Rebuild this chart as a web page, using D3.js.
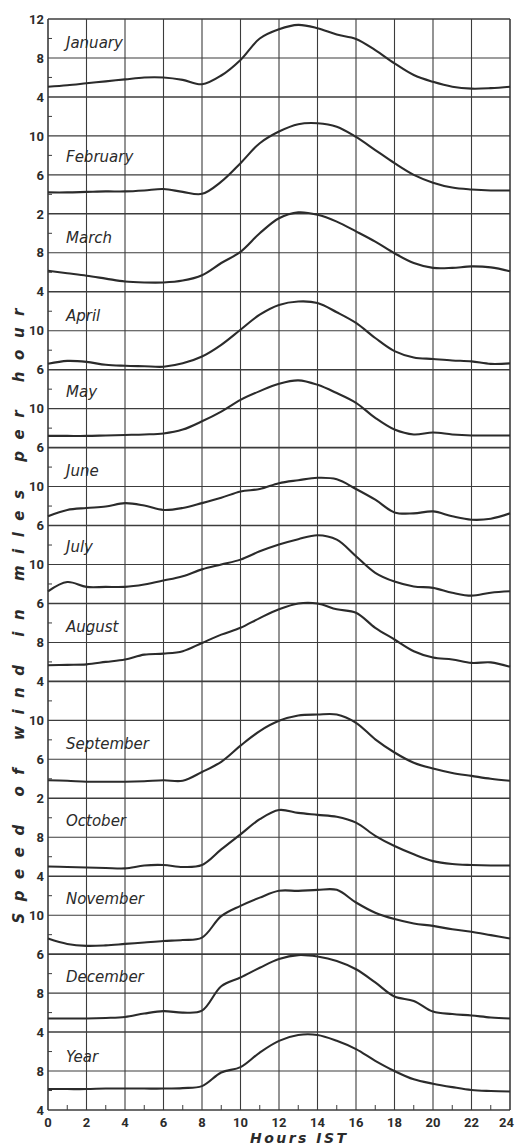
<!DOCTYPE html>
<html>
<head>
<meta charset="utf-8">
<script src="https://cdn.jsdelivr.net/npm/d3@7"></script>
<style>
  body { margin: 0; background: #fff; }
  svg { display: block; }
</style>
</head>
<body>
<div id="chart"></div>
<script>
const width = 515;
const height = 1146;
const margin = { top: 19, right: 5, bottom: 36, left: 48 };

// hours of the day (x axis) and the hour ticks
const hours = [0, 1, 2, 3, 4, 5, 6, 7, 8, 9, 10, 11, 12, 13, 14, 15, 16, 17, 18, 19, 20, 21, 22, 23, 24];
const hourTicks = [0, 2, 4, 6, 8, 10, 12, 14, 16, 18, 20, 22, 24];

// labels written against every horizontal grid line, top to bottom
const yTickLabels = [12, 8, 4, 10, 6, 2, 8, 4, 10, 6, 10, 6, 10, 6, 10, 6, 8, 4, 10, 6, 2, 8, 4, 10, 6, 8, 4, 8, 4];

const months = ["January", "February", "March", "April", "May", "June", "July",
  "August", "September", "October", "November", "December", "Year"];

// index in yTickLabels of the first label that belongs to each panel
const panelTick = [0, 3, 6, 8, 10, 12, 14, 16, 18, 21, 23, 25, 27];

// mean wind speed (mph) for every hour 0..24
const january = [5.05, 5.2, 5.4, 5.6, 5.8, 6.0, 6.0, 5.75, 5.3, 6.2, 7.8, 10.0, 10.95, 11.4, 11.05, 10.4, 9.95, 8.8, 7.45, 6.25, 5.55, 5.05, 4.85, 4.9, 5.05];
const february = [4.2, 4.2, 4.25, 4.3, 4.3, 4.4, 4.55, 4.25, 4.05, 5.3, 7.2, 9.25, 10.45, 11.2, 11.3, 10.95, 9.9, 8.55, 7.2, 6.0, 5.2, 4.7, 4.5, 4.4, 4.4];
const march = [6.15, 5.9, 5.65, 5.35, 5.05, 4.95, 4.95, 5.15, 5.7, 6.95, 8.1, 10.0, 11.55, 12.15, 11.9, 11.2, 10.2, 9.15, 7.95, 6.95, 6.45, 6.45, 6.6, 6.5, 6.1];
const april = [6.6, 6.9, 6.8, 6.5, 6.4, 6.35, 6.3, 6.65, 7.35, 8.55, 10.1, 11.65, 12.65, 13.0, 12.85, 11.9, 10.8, 9.25, 7.9, 7.25, 7.1, 6.95, 6.85, 6.6, 6.65];
const may = [7.2, 7.2, 7.2, 7.25, 7.3, 7.35, 7.45, 7.85, 8.7, 9.7, 10.9, 11.8, 12.55, 12.9, 12.45, 11.6, 10.6, 9.05, 7.85, 7.35, 7.55, 7.35, 7.25, 7.25, 7.25];
const june = [6.95, 7.6, 7.8, 7.95, 8.3, 8.05, 7.6, 7.8, 8.3, 8.85, 9.5, 9.75, 10.35, 10.65, 10.9, 10.75, 9.75, 8.65, 7.35, 7.25, 7.45, 6.95, 6.6, 6.7, 7.25];
const july = [7.25, 8.2, 7.7, 7.7, 7.7, 7.95, 8.35, 8.8, 9.5, 10.0, 10.5, 11.35, 12.05, 12.6, 13.0, 12.55, 10.85, 9.15, 8.25, 7.75, 7.6, 7.1, 6.8, 7.1, 7.25];
const august = [5.65, 5.7, 5.75, 6.0, 6.25, 6.75, 6.85, 7.1, 7.95, 8.8, 9.5, 10.5, 11.4, 12.0, 12.0, 11.4, 11.05, 9.5, 8.3, 7.1, 6.45, 6.25, 5.9, 5.95, 5.5];
const september = [3.85, 3.8, 3.7, 3.7, 3.7, 3.75, 3.85, 3.8, 4.7, 5.75, 7.4, 8.9, 9.95, 10.5, 10.6, 10.6, 9.75, 8.05, 6.7, 5.65, 5.05, 4.6, 4.3, 4.0, 3.8];
const october = [5.0, 4.95, 4.9, 4.85, 4.8, 5.1, 5.15, 4.95, 5.15, 6.75, 8.3, 9.85, 10.8, 10.5, 10.3, 10.1, 9.5, 8.15, 7.1, 6.25, 5.55, 5.25, 5.15, 5.1, 5.1];
const november = [7.6, 7.05, 6.85, 6.9, 7.05, 7.2, 7.35, 7.45, 7.7, 9.9, 10.95, 11.8, 12.5, 12.5, 12.6, 12.6, 11.3, 10.25, 9.6, 9.15, 8.9, 8.55, 8.3, 7.95, 7.6];
const december = [5.4, 5.4, 5.4, 5.45, 5.55, 5.9, 6.15, 6.0, 6.2, 8.7, 9.6, 10.6, 11.5, 11.9, 11.75, 11.3, 10.45, 9.1, 7.65, 7.2, 6.1, 5.85, 5.7, 5.5, 5.4];
const year = [6.15, 6.15, 6.15, 6.2, 6.2, 6.2, 6.2, 6.25, 6.45, 7.85, 8.4, 9.9, 11.1, 11.7, 11.7, 11.1, 10.25, 9.05, 8.0, 7.15, 6.7, 6.35, 6.05, 5.95, 5.9];

const series = [january, february, march, april, may, june, july, august,
  september, october, november, december, year];

// grid row (in grid-line units) where each month name sits
const labelRow = [0.74, 3.67, 5.74, 7.74, 9.69, 11.74, 13.69, 15.74, 18.74, 20.72, 22.72, 24.72, 26.77];

const ink = "#2b2b2b";
const gridInk = "#3c3c3c";

const svg = d3.select("#chart")
  .append("svg")
  .attr("width", width)
  .attr("height", height)
  .attr("viewBox", `0 0 ${width} ${height}`);

svg.append("rect").attr("width", width).attr("height", height).attr("fill", "#fff");

// scales
const xScale = d3.scaleLinear()
  .domain([0, 24])
  .range([margin.left, width - margin.right]);

const nRows = yTickLabels.length - 1;
const rowScale = d3.scaleLinear()
  .domain([0, nRows])
  .range([margin.top, height - margin.bottom]);

// each panel gets its own speed scale anchored on its labelled grid lines
const panelScale = i => {
  const k = panelTick[i];
  const v = yTickLabels[k];
  return d3.scaleLinear()
    .domain([v, v - 4])
    .range([rowScale(k), rowScale(k + 1)]);
};

const grid = svg.append("g");
const curves = svg.append("g");
const axes = svg.append("g");

// horizontal grid lines (panel boundaries a bit heavier)
const separators = new Set([2, 5, 7, 9, 11, 13, 15, 17, 20, 22, 24, 26]);
grid.selectAll(".hline")
  .data(d3.range(nRows + 1))
  .join("line")
  .attr("x1", xScale(0))
  .attr("x2", xScale(24))
  .attr("y1", d => rowScale(d))
  .attr("y2", d => rowScale(d))
  .attr("stroke", gridInk)
  .attr("stroke-width", d => (separators.has(d) || d === 0 || d === nRows) ? 1.6 : 1.1);

// vertical grid lines
grid.selectAll(".vline")
  .data(hourTicks)
  .join("line")
  .attr("x1", d => xScale(d))
  .attr("x2", d => xScale(d))
  .attr("y1", rowScale(0))
  .attr("y2", rowScale(nRows))
  .attr("stroke", gridInk)
  .attr("stroke-width", d => (d === 0 || d === 24) ? 1.6 : 1.1);

// minor ticks on the left axis (half way between grid lines)
axes.selectAll(".ytick-minor")
  .data(d3.range(nRows))
  .join("line")
  .attr("x1", xScale(0))
  .attr("x2", xScale(0) + 4)
  .attr("y1", d => rowScale(d + 0.5))
  .attr("y2", d => rowScale(d + 0.5))
  .attr("stroke", gridInk)
  .attr("stroke-width", 1);

// minor ticks on the bottom axis (odd hours)
axes.selectAll(".xtick-minor")
  .data(hours.filter(h => h % 2 === 1))
  .join("line")
  .attr("x1", d => xScale(d))
  .attr("x2", d => xScale(d))
  .attr("y1", rowScale(nRows))
  .attr("y2", rowScale(nRows) - 5)
  .attr("stroke", gridInk)
  .attr("stroke-width", 1);

// the curves
const line = (scale) => d3.line()
  .x((d, j) => xScale(hours[j]))
  .y(d => scale(d))
  .curve(d3.curveCatmullRom.alpha(0.5));

curves.selectAll("path")
  .data(series)
  .join("path")
  .attr("d", (d, i) => line(panelScale(i))(d))
  .attr("fill", "none")
  .attr("stroke", ink)
  .attr("stroke-width", 2.1)
  .attr("stroke-linejoin", "round");

// month names
curves.selectAll(".month")
  .data(months)
  .join("text")
  .attr("x", 66)
  .attr("y", (d, i) => rowScale(labelRow[i]))
  .attr("font-family", "'DejaVu Sans', sans-serif")
  .attr("font-style", "italic")
  .attr("font-size", "15px")
  .attr("fill", ink)
  .text(d => d);

// y tick labels
axes.selectAll(".ylabel")
  .data(yTickLabels)
  .join("text")
  .attr("x", xScale(0) - 4)
  .attr("y", (d, i) => rowScale(i))
  .attr("dy", "0.36em")
  .attr("text-anchor", "end")
  .attr("font-family", "Roboto, sans-serif")
  .attr("font-weight", "bold")
  .attr("font-size", "13px")
  .attr("fill", ink)
  .text(d => d);

// x tick labels (the last one kept inside the page)
axes.selectAll(".xlabel")
  .data(hourTicks)
  .join("text")
  .attr("x", d => d === 24 ? width - 1 : xScale(d))
  .attr("y", rowScale(nRows) + 17)
  .attr("text-anchor", d => d === 24 ? "end" : "middle")
  .attr("font-family", "Roboto, sans-serif")
  .attr("font-weight", "bold")
  .attr("font-size", "13px")
  .attr("fill", ink)
  .text(d => d);

// axis titles
axes.append("text")
  .attr("transform", `translate(24, ${616}) rotate(-90)`)
  .attr("text-anchor", "middle")
  .attr("font-family", "'DejaVu Sans', sans-serif")
  .attr("font-style", "italic")
  .attr("font-weight", "bold")
  .attr("font-size", "15px")
  .attr("fill", ink)
  .attr("textLength", 615)
  .attr("lengthAdjust", "spacing")
  .text("Speed of wind in miles per hour");

axes.append("text")
  .attr("x", 298)
  .attr("y", 1143)
  .attr("text-anchor", "middle")
  .attr("font-family", "'DejaVu Sans', sans-serif")
  .attr("font-style", "italic")
  .attr("font-weight", "bold")
  .attr("font-size", "14px")
  .attr("fill", ink)
  .attr("textLength", 96)
  .attr("lengthAdjust", "spacing")
  .text("Hours IST");
</script>
</body>
</html>
